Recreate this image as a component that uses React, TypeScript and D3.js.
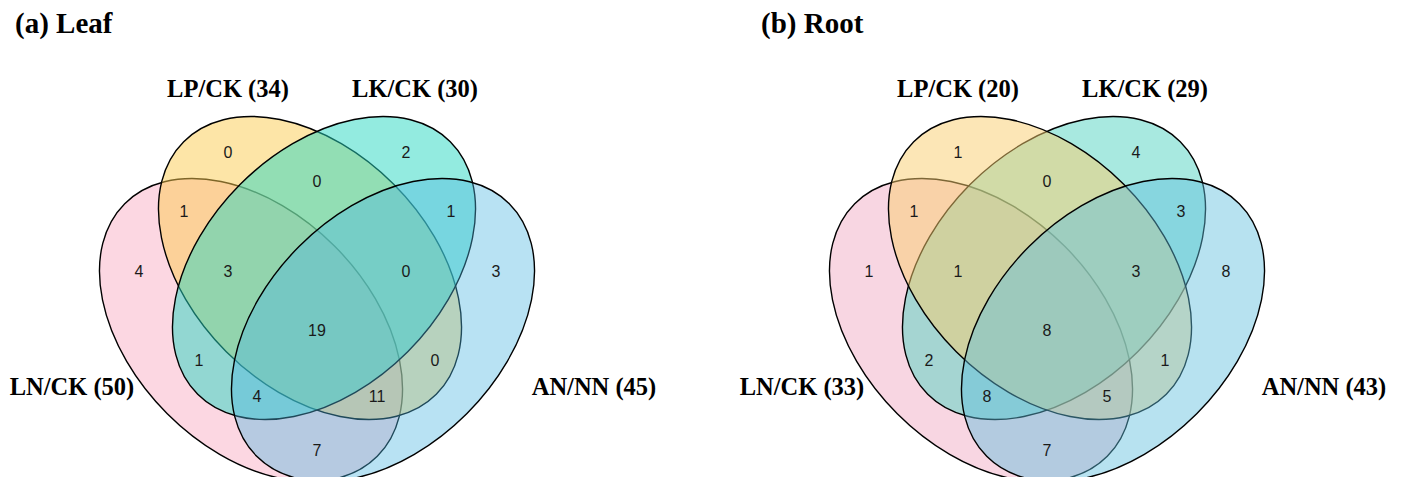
import React from "react";
import * as d3 from "d3";

// Four comparison sets, in drawing order: LN/CK, LP/CK, LK/CK, AN/NN
const SET_NAMES = ["LN/CK", "LP/CK", "LK/CK", "AN/NN"];

// Region membership codes (one digit per set, same order as SET_NAMES)
const REGION_KEYS = [
  "0100", "0010", "0110", "1100", "0011",
  "1000", "1110", "0111", "0001", "1111",
  "1010", "0101", "1011", "1101", "1001",
];

// Gene counts per region
const LEAF_COUNTS = [0, 2, 0, 1, 1, 4, 3, 0, 3, 19, 1, 0, 4, 11, 7];
const ROOT_COUNTS = [1, 4, 0, 1, 3, 1, 1, 3, 8, 8, 2, 1, 8, 5, 7];

const PANEL_TITLES = ["(a) Leaf", "(b) Root"];

// ---- layout (pixel offsets relative to each panel's symmetry axis) ----
const W = 1402;
const H = 477;
const PANEL_AXIS = [317, 1047];
const TITLE_X = [15, 761];
const TITLE_Y = 33;

const ELLIPSE_RX = 178.6;
const ELLIPSE_RY = 118.4;
const ELLIPSES = [
  { dx: -66, y: 330, rot: 45 },
  { dx: -7, y: 268, rot: 45 },
  { dx: 7, y: 268, rot: -45 },
  { dx: 66, y: 330, rot: -45 },
];

const SET_LABEL_POS: [number, number][] = [
  [-245, 395],
  [-89, 97],
  [98, 97],
  [277, 395],
];

const REGION_POS: Record<string, [number, number]> = {
  "0100": [-89, 152],
  "0010": [89, 152],
  "0110": [0, 181],
  "1100": [-133, 211],
  "0011": [134, 211],
  "1000": [-178, 271],
  "1110": [-89, 271],
  "0111": [89, 271],
  "0001": [179, 271],
  "1111": [0, 330],
  "1010": [-118, 360],
  "0101": [118, 360],
  "1011": [-60, 396],
  "1101": [60, 396],
  "1001": [0, 450],
};

// fill colour + opacity per set, and the stacking order of the ellipses
const PANEL_STYLE = [
  {
    fills: ["#F9AFC5", "#FBCB4F", "#27D7C1", "#4EB6E1"],
    opacity: [0.5, 0.5, 0.5, 0.4],
    order: [0, 1, 2, 3],
  },
  {
    fills: ["#F1ADC5", "#F9CD6D", "#51D3C1", "#5FBEDE"],
    opacity: [0.5, 0.5, 0.5, 0.45],
    order: [0, 2, 1, 3],
  },
];

const SERIF = "'Liberation Serif', 'Times New Roman', Times, serif";
const SANS = "'Liberation Sans', Arial, Helvetica, sans-serif";

function setTotals(counts: number[]): number[] {
  return SET_NAMES.map((_, s) =>
    d3.sum(REGION_KEYS, (k, i) => (k[s] === "1" ? counts[i] : 0))
  );
}

function VennPanel({ index, counts }: { index: number; counts: number[] }) {
  const axis = PANEL_AXIS[index];
  const x = d3.scaleLinear().domain([-300, 300]).range([axis - 300, axis + 300]);
  const y = d3.scaleLinear().domain([0, H]).range([0, H]);
  const style = PANEL_STYLE[index];
  const totals = setTotals(counts);

  return (
    <g>
      <text
        x={TITLE_X[index]}
        y={TITLE_Y}
        fontFamily={SERIF}
        fontWeight="bold"
        fontSize={29}
        fill="#000"
      >
        {PANEL_TITLES[index]}
      </text>

      {style.order.map((s) => {
        const e = ELLIPSES[s];
        const cx = x(e.dx);
        const cy = y(e.y);
        return (
          <ellipse
            key={s}
            cx={cx}
            cy={cy}
            rx={ELLIPSE_RX}
            ry={ELLIPSE_RY}
            transform={`rotate(${e.rot} ${cx} ${cy})`}
            fill={style.fills[s]}
            fillOpacity={style.opacity[s]}
            stroke="#000"
            strokeWidth={1.4}
          />
        );
      })}

      {REGION_KEYS.map((k, i) => {
        const [dx, py] = REGION_POS[k];
        return (
          <text
            key={k}
            x={x(dx)}
            y={y(py)}
            textAnchor="middle"
            dominantBaseline="central"
            fontFamily={SANS}
            fontSize={16}
            fill="#1a1a1a"
          >
            {counts[i]}
          </text>
        );
      })}

      {SET_NAMES.map((name, s) => {
        const [dx, py] = SET_LABEL_POS[s];
        return (
          <text
            key={name}
            x={x(dx)}
            y={y(py)}
            textAnchor="middle"
            fontFamily={SERIF}
            fontWeight="bold"
            fontSize={24.5}
            fill="#000"
          >
            {`${name} (${totals[s]})`}
          </text>
        );
      })}
    </g>
  );
}

export default function App() {
  return (
    <svg
      width={W}
      height={H}
      viewBox={`0 0 ${W} ${H}`}
      style={{ position: "absolute", left: 0, top: 0, background: "#fff" }}
    >
      <rect x={0} y={0} width={W} height={H} fill="#fff" />
      <VennPanel index={0} counts={LEAF_COUNTS} />
      <VennPanel index={1} counts={ROOT_COUNTS} />
    </svg>
  );
}
